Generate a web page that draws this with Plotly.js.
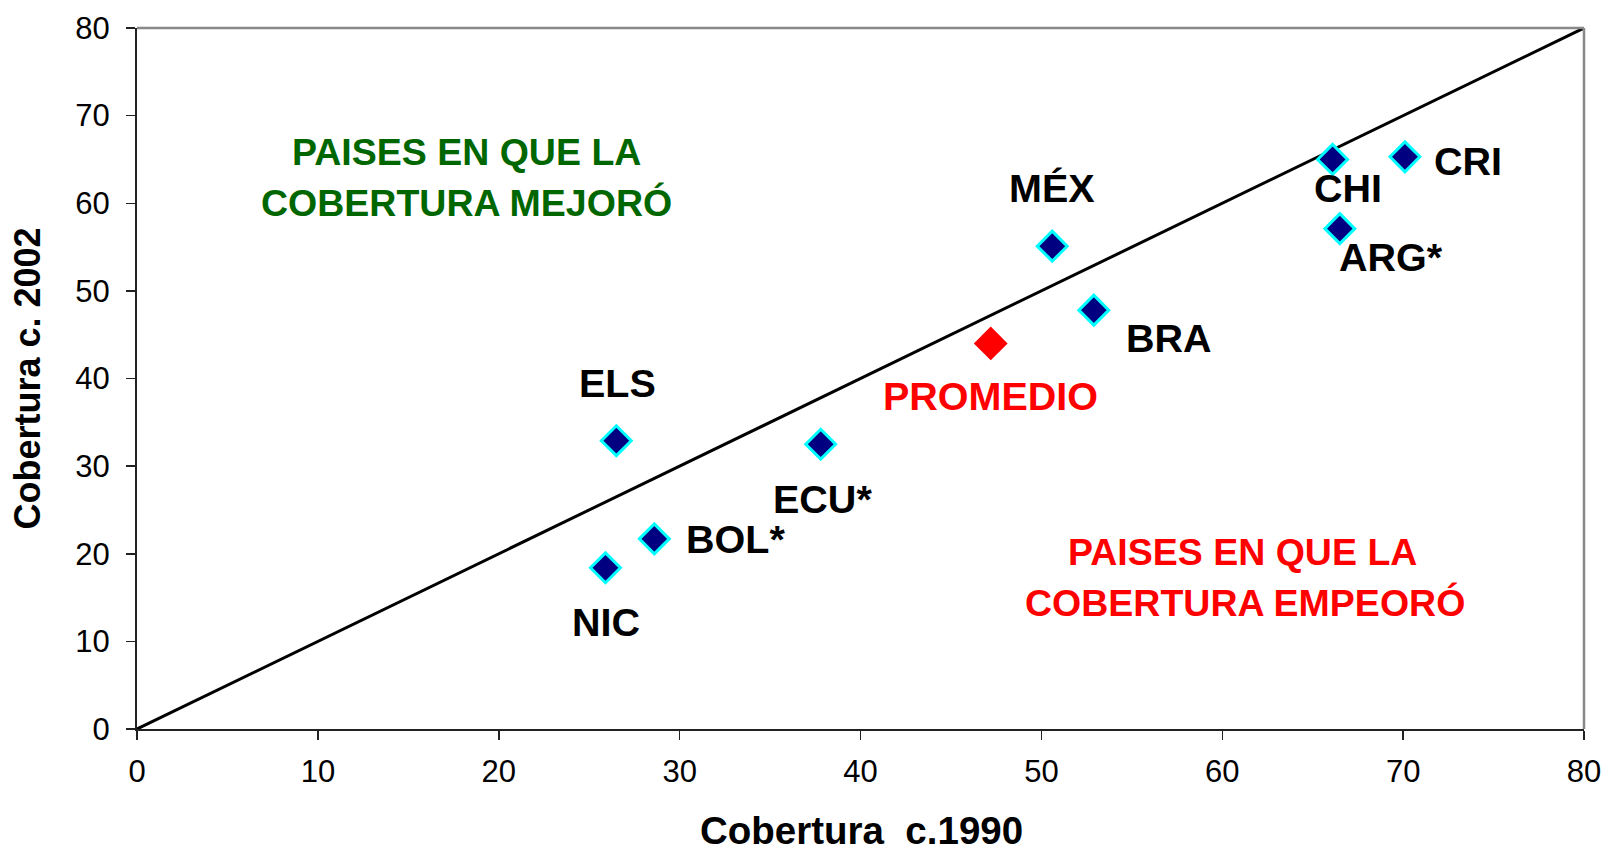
<!DOCTYPE html>
<html>
<head>
<meta charset="utf-8">
<script src="https://cdn.plot.ly/plotly-3.0.1.min.js"></script>
<style>html,body{margin:0;padding:0;background:#fff;}#chart{width:1608px;height:854px;}</style>
</head>
<body>
<div id="chart"></div>
<script>
// Data
var countries = ["ELS", "ECU*", "BOL*", "NIC", "MÉX", "BRA", "CHI", "CRI", "ARG*"];
var cov1990 = [26.5, 37.8, 28.6, 25.9, 50.6, 52.9, 66.1, 70.1, 66.5];
var cov2002 = [32.9, 32.5, 21.7, 18.4, 55.1, 47.8, 65.0, 65.3, 57.1];
var avgLabel = "PROMEDIO";
var avg1990 = [47.2];
var avg2002 = [44.0];
var diagX = [0, 80];
var diagY = [0, 80];
var xTicks = [0, 10, 20, 30, 40, 50, 60, 70, 80];
var yTicks = [0, 10, 20, 30, 40, 50, 60, 70, 80];
var xTitle = "Cobertura\u00a0 c.1990";
var yTitle = "Cobertura c. 2002";

// label placement (pixel offsets from each point)
var labelPos = {
  "ELS":  {dx: 1,  dy: 58,  anchor: "center"},
  "ECU*": {dx: 2,  dy: -55, anchor: "center"},
  "BOL*": {dx: 30, dy: 0,   anchor: "left"},
  "NIC":  {dx: 1,  dy: -54, anchor: "center"},
  "MÉX":  {dx: 0,  dy: 58,  anchor: "center"},
  "BRA":  {dx: 75, dy: -28, anchor: "center"},
  "CHI":  {dx: 15, dy: -29, anchor: "center"},
  "CRI":  {dx: 27, dy: -4,  anchor: "left"},
  "ARG*": {dx: 51, dy: -28, anchor: "center"}
};

var FONT = "Liberation Sans, Arial, Helvetica, sans-serif";

var traces = [
  {
    x: diagX, y: diagY, mode: "lines", type: "scatter",
    line: {color: "#000000", width: 3}, hoverinfo: "skip", cliponaxis: false
  },
  {
    x: cov1990, y: cov2002, text: countries, mode: "markers", type: "scatter",
    marker: {symbol: "diamond", size: 23, color: "#000080", line: {color: "#00FFFF", width: 3}},
    cliponaxis: false
  },
  {
    x: avg1990, y: avg2002, text: [avgLabel], mode: "markers", type: "scatter",
    marker: {symbol: "diamond", size: 26, color: "#FF0000", line: {width: 0}},
    cliponaxis: false
  }
];

var annotations = [];
countries.forEach(function (c, i) {
  var p = labelPos[c];
  annotations.push({
    x: cov1990[i], y: cov2002[i], xref: "x", yref: "y", text: "<b>" + c + "</b>",
    showarrow: false, xanchor: p.anchor, yanchor: "middle", xshift: p.dx, yshift: p.dy,
    font: {family: FONT, size: 39.5, color: "#000000"}
  });
});
annotations.push({
  x: avg1990[0], y: avg2002[0], xref: "x", yref: "y", text: "<b>" + avgLabel + "</b>",
  showarrow: false, xanchor: "center", yanchor: "middle", xshift: 0, yshift: -53,
  font: {family: FONT, size: 39.5, color: "#FF0000"}
});
var regionText = [
  {t: "PAISES EN QUE LA", px: 466.5, py: 151.7, c: "#006600"},
  {t: "COBERTURA MEJORÓ", px: 466.5, py: 203, c: "#006600"},
  {t: "PAISES EN QUE LA", px: 1242, py: 551.7, c: "#FF0000"},
  {t: "COBERTURA EMPEORÓ", px: 1245, py: 603, c: "#FF0000"}
];
regionText.forEach(function (r) {
  annotations.push({
    x: (r.px - 137) / 1447, y: 1 - (r.py - 28) / 701, xref: "paper", yref: "paper",
    text: "<b>" + r.t + "</b>", showarrow: false, xanchor: "center", yanchor: "middle",
    font: {family: FONT, size: 37.5, color: r.c}
  });
});
// x-axis title, placed as in the reference (bottom of the figure)
annotations.push({
  x: (861 - 137) / 1447, y: 1 - (853 - 28) / 701, xref: "paper", yref: "paper",
  text: "<b>" + xTitle + "</b>", showarrow: false, xanchor: "center", yanchor: "bottom",
  borderpad: 0,
  font: {family: FONT, size: 38.5, color: "#000000"}
});

var layout = {
  width: 1608, height: 854,
  margin: {l: 137, r: 24, t: 28, b: 125},
  paper_bgcolor: "#ffffff", plot_bgcolor: "#ffffff",
  showlegend: false,
  font: {family: FONT, color: "#000000"},
  xaxis: {
    range: [0, 80], tickvals: xTicks, ticktext: xTicks.map(String),
    showgrid: false, zeroline: false, showline: true, linecolor: "#222222", linewidth: 2,
    ticks: "outside", ticklen: 9, tickwidth: 1.5, tickcolor: "#222222",
    ticklabelstandoff: 5,
    tickfont: {family: FONT, size: 31, color: "#000000"},
    automargin: false,
    fixedrange: true
  },
  yaxis: {
    range: [0, 80], tickvals: yTicks, ticktext: yTicks.map(String),
    showgrid: false, zeroline: false, showline: true, linecolor: "#222222", linewidth: 2,
    ticks: "outside", ticklen: 9, tickwidth: 1.5, tickcolor: "#222222",
    ticklabelstandoff: 10,
    tickfont: {family: FONT, size: 31, color: "#000000"},
    title: {text: "<b>" + yTitle + "</b>", font: {family: FONT, size: 36, color: "#000000"}, standoff: 24},
    automargin: false,
    fixedrange: true
  },
  shapes: [
    {type: "line", xref: "paper", yref: "paper", x0: 0, x1: 1, y0: 1, y1: 1, line: {color: "#888888", width: 2.5}},
    {type: "line", xref: "paper", yref: "paper", x0: 1, x1: 1, y0: 0, y1: 1, line: {color: "#888888", width: 2.5}}
  ],
  annotations: annotations
};

Plotly.newPlot("chart", traces, layout, {displayModeBar: false, staticPlot: true});
</script>
</body>
</html>
